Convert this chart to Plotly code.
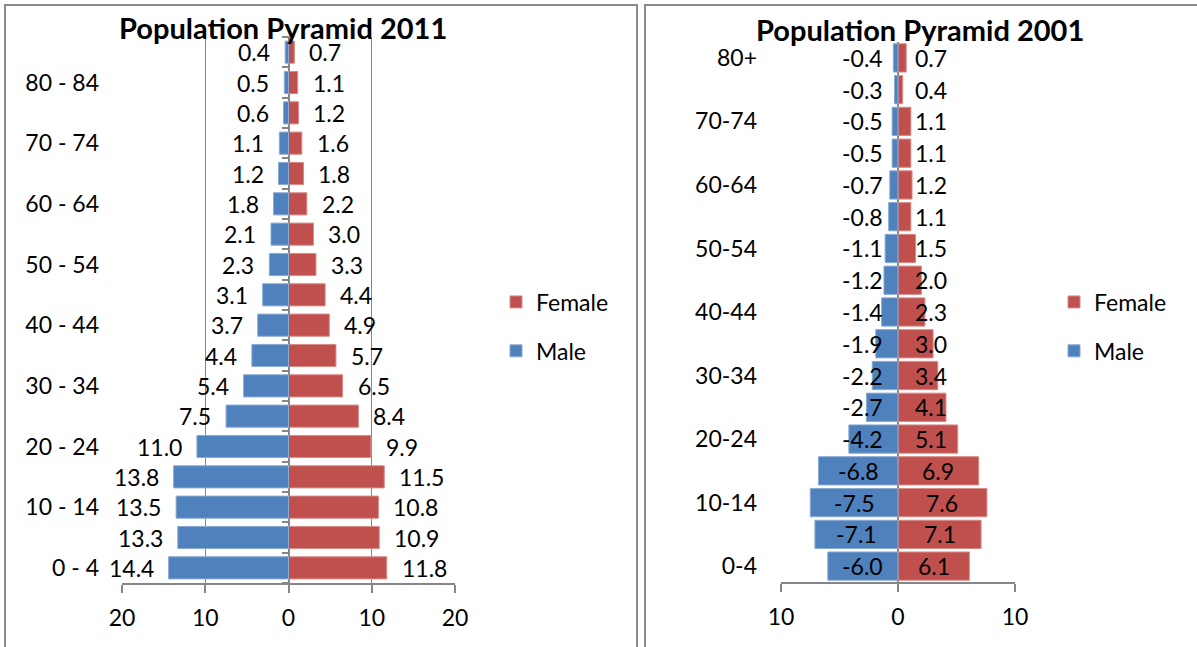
import plotly.graph_objects as go

# ---------------- data ----------------
cats_2011 = ['0 - 4', '5 - 9', '10 - 14', '15 - 19', '20 - 24', '25 - 29', '30 - 34',
             '35 - 39', '40 - 44', '45 - 49', '50 - 54', '55 - 59', '60 - 64',
             '65 - 69', '70 - 74', '75 - 79', '80 - 84', '85+']
male_2011 = [14.4, 13.3, 13.5, 13.8, 11.0, 7.5, 5.4, 4.4, 3.7, 3.1, 2.3, 2.1, 1.8,
             1.2, 1.1, 0.6, 0.5, 0.4]
female_2011 = [11.8, 10.9, 10.8, 11.5, 9.9, 8.4, 6.5, 5.7, 4.9, 4.4, 3.3, 3.0, 2.2,
               1.8, 1.6, 1.2, 1.1, 0.7]

cats_2001 = ['0-4', '5-9', '10-14', '15-19', '20-24', '25-29', '30-34', '35-39',
             '40-44', '45-49', '50-54', '55-59', '60-64', '65-69', '70-74', '75-79', '80+']
male_2001 = [-6.0, -7.1, -7.5, -6.8, -4.2, -2.7, -2.2, -1.9, -1.4, -1.2, -1.1, -0.8,
             -0.7, -0.5, -0.5, -0.3, -0.4]
female_2001 = [6.1, 7.1, 7.6, 6.9, 5.1, 4.1, 3.4, 3.0, 2.3, 2.0, 1.5, 1.1, 1.2, 1.1,
               1.1, 0.4, 0.7]

x_ticks_2011 = [-20, -10, 0, 10, 20]
x_ticklabels_2011 = ['20', '10', '0', '10', '20']
x_ticks_2001 = [-10, 0, 10]
x_ticklabels_2001 = ['10', '0', '10']

title_2011 = 'Population Pyramid 2011'
title_2001 = 'Population Pyramid 2001'

# ---------------- style ----------------
W, H = 1197, 647
BLUE = '#4F81BD'
RED = '#C0504D'
GRID = '#868686'
FONT = 'Lato'
FS = 23


def fx(p):
    return p / W


def fy(p):
    return 1 - p / H


fig = go.Figure()

# 2011 bars
fig.add_trace(go.Bar(y=cats_2011, x=female_2011, orientation='h', name='Female',
                     marker=dict(color=RED, line=dict(color='#D98A88', width=1)),
                     width=0.73, xaxis='x', yaxis='y', legend='legend',
                     legendgroup='f1', hoverinfo='skip'))
fig.add_trace(go.Bar(y=cats_2011, x=[-v for v in male_2011], orientation='h', name='Male',
                     marker=dict(color=BLUE, line=dict(color='#8AAAD3', width=1)),
                     width=0.73, xaxis='x', yaxis='y', legend='legend',
                     legendgroup='m1', hoverinfo='skip'))

# 2001 bars
fig.add_trace(go.Bar(y=cats_2001, x=female_2001, orientation='h', name='Female',
                     marker=dict(color=RED, line=dict(color='#D98A88', width=1)),
                     width=0.89, xaxis='x2', yaxis='y2', legend='legend2',
                     legendgroup='f2', hoverinfo='skip'))
fig.add_trace(go.Bar(y=cats_2001, x=male_2001, orientation='h', name='Male',
                     marker=dict(color=BLUE, line=dict(color='#8AAAD3', width=1)),
                     width=0.89, xaxis='x2', yaxis='y2', legend='legend2',
                     legendgroup='m2', hoverinfo='skip'))

# dummy trace to register the tick-mark overlay axis at x = 0
fig.add_trace(go.Scatter(x=[None], y=[None], xaxis='x', yaxis='y3', showlegend=False,
                         hoverinfo='skip'))

annotations = []
# 2011 labels: outside end
for c, m, f in zip(cats_2011, male_2011, female_2011):
    annotations.append(dict(x=-m, y=c, xref='x', yref='y', text=f'{m:.1f}',
                            xanchor='right', xshift=-13, showarrow=False,
                            font=dict(family=FONT, size=FS, color='black')))
    annotations.append(dict(x=f, y=c, xref='x', yref='y', text=f'{f:.1f}',
                            xanchor='left', xshift=13, showarrow=False,
                            font=dict(family=FONT, size=FS, color='black')))
# 2001 labels: centred, but kept clear of the axis
for c, m, f in zip(cats_2001, male_2001, female_2001):
    annotations.append(dict(x=min(m / 2, -3.0), y=c, xref='x2', yref='y2', text=f'{m:.1f}',
                            xanchor='center', showarrow=False,
                            font=dict(family=FONT, size=FS, color='black')))
    annotations.append(dict(x=max(f / 2, 2.8), y=c, xref='x2', yref='y2', text=f'{f:.1f}',
                            xanchor='center', showarrow=False,
                            font=dict(family=FONT, size=FS, color='black')))

annotations.append(dict(x=fx(283), y=fy(28), xref='paper', yref='paper', text=f'<b>{title_2011}</b>',
                        showarrow=False, xanchor='center', yanchor='middle',
                        font=dict(family=FONT, size=29, color='black')))
annotations.append(dict(x=fx(920), y=fy(29), xref='paper', yref='paper', text=f'<b>{title_2001}</b>',
                        showarrow=False, xanchor='center', yanchor='middle',
                        font=dict(family=FONT, size=29, color='black')))

axis_common = dict(showgrid=True, gridcolor=GRID, gridwidth=1, zeroline=True,
                   zerolinecolor=GRID, zerolinewidth=1.5, showline=True, linecolor=GRID,
                   linewidth=1.5, ticks='outside', ticklen=8, tickcolor=GRID, tickwidth=1.5,
                   tickfont=dict(family=FONT, size=FS, color='black'), ticklabelstandoff=6,
                   fixedrange=True, automargin=False)

shapes = [
    dict(type='rect', xref='paper', yref='paper', x0=fx(5), x1=fx(637), y0=-0.1, y1=fy(5),
         line=dict(color='#8C8C8C', width=2), fillcolor='rgba(0,0,0,0)'),
    dict(type='rect', xref='paper', yref='paper', x0=fx(645), x1=1.1, y0=-0.1, y1=fy(5),
         line=dict(color='#8C8C8C', width=2), fillcolor='rgba(0,0,0,0)'),
]

n11 = len(cats_2011)

fig.update_layout(
    template='none',
    width=W, height=H,
    margin=dict(l=0, r=0, t=0, b=0, pad=0, autoexpand=False),
    paper_bgcolor='white', plot_bgcolor='white',
    barmode='overlay',
    font=dict(family=FONT, size=FS, color='black'),
    xaxis=dict(domain=[fx(122), fx(455)], anchor='y', range=[-20, 20],
               tickvals=x_ticks_2011, ticktext=x_ticklabels_2011, **axis_common),
    yaxis=dict(domain=[fy(583), fy(37)], anchor='x', type='category',
               categoryorder='array', categoryarray=cats_2011, range=[-0.5, n11 - 0.5],
               tickvals=cats_2011[::2], showgrid=False, zeroline=False, ticks='',
               showline=False, ticklabelstandoff=22, fixedrange=True, automargin=False,
               tickfont=dict(family=FONT, size=FS, color='black')),
    yaxis3=dict(overlaying='y', anchor='free', position=fx(288.5), side='left',
                range=[-0.5, n11 - 0.5], tickvals=[i + 0.5 for i in range(-1, n11)],
                ticks='outside', ticklen=7, tickcolor=GRID, tickwidth=1.5,
                showticklabels=False, showgrid=False, zeroline=False, showline=False,
                fixedrange=True, automargin=False),
    xaxis2=dict(domain=[fx(781), fx(1015)], anchor='y2', range=[-10, 10],
                tickvals=x_ticks_2001, ticktext=x_ticklabels_2001, **axis_common),
    yaxis2=dict(domain=[fy(582), fy(42)], anchor='x2', type='category',
                categoryorder='array', categoryarray=cats_2001,
                range=[-0.5, len(cats_2001) - 0.5],
                tickvals=cats_2001[::2], showgrid=False, zeroline=False, ticks='',
                showline=False, ticklabelstandoff=23, fixedrange=True, automargin=False,
                tickfont=dict(family=FONT, size=FS, color='black')),
    legend=dict(x=fx(496), y=fy(326.5), xanchor='left', yanchor='middle',
                traceorder='grouped', tracegroupgap=16, bgcolor='rgba(0,0,0,0)',
                borderwidth=0, font=dict(family=FONT, size=FS, color='black')),
    legend2=dict(x=fx(1054), y=fy(326.5), xanchor='left', yanchor='middle',
                 traceorder='grouped', tracegroupgap=16, bgcolor='rgba(0,0,0,0)',
                 borderwidth=0, font=dict(family=FONT, size=FS, color='black')),
    annotations=annotations,
    shapes=shapes,
    showlegend=True,
)

fig.write_html('out.html', config={'displayModeBar': False},
               post_script="document.body.style.margin='0';document.body.style.overflow='hidden';")
